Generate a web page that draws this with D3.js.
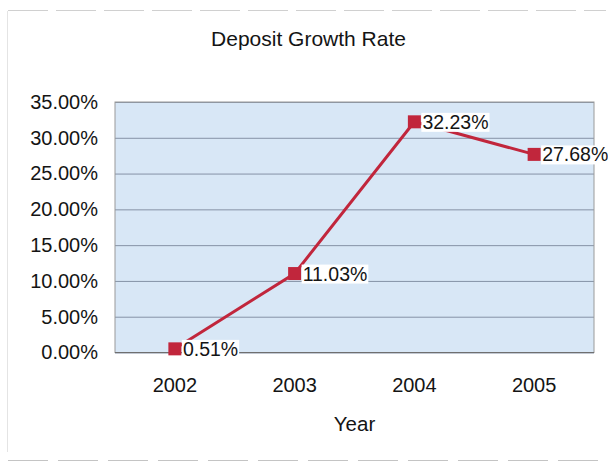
<!DOCTYPE html>
<html>
<head>
<meta charset="utf-8">
<script src="https://cdn.jsdelivr.net/npm/d3@7/dist/d3.min.js"></script>
<style>
  html, body { margin: 0; padding: 0; background: #ffffff; }
  svg { display: block; font-family: "Liberation Sans", Arial, sans-serif; }
</style>
</head>
<body>
<svg id="chart" width="608" height="466"></svg>
<script>
// Deposit growth rate by year (percent)
const years = ["2002", "2003", "2004", "2005"];
const growthRates = [0.51, 11.03, 32.23, 27.68];
const yTicks = [0, 5, 10, 15, 20, 25, 30, 35];
const chartTitle = "Deposit Growth Rate";
const xTitle = "Year";

const svg = d3.select("#chart");
const plot = { left: 115, right: 594, top: 102, bottom: 352.5 };
const lineColor = "#c1263c";
const textColor = "#141414";

// Outer chart frame
svg.append("line")
  .attr("x1", 8).attr("x2", 606).attr("y1", 10.5).attr("y2", 10.5)
  .attr("stroke", "#d0d0d0").attr("stroke-width", 1)
  .attr("stroke-dasharray", "40,8");
svg.append("line")
  .attr("x1", 8).attr("x2", 606).attr("y1", 460.5).attr("y2", 460.5)
  .attr("stroke", "#c4c4c4").attr("stroke-width", 1)
  .attr("stroke-dasharray", "40,10");
svg.append("line")
  .attr("x1", 7.5).attr("x2", 7.5).attr("y1", 11).attr("y2", 452)
  .attr("stroke", "#e4e4e4").attr("stroke-width", 1);

const x = d3.scaleBand().domain(years).range([plot.left, plot.right]).padding(0);
const y = d3.scaleLinear().domain([0, 35]).range([plot.bottom, plot.top]);

// Plot area
svg.append("rect")
  .attr("x", plot.left).attr("y", plot.top)
  .attr("width", plot.right - plot.left).attr("height", plot.bottom - plot.top)
  .attr("fill", "#d8e7f6");

// Horizontal gridlines
const grid = svg.append("g")
  .attr("transform", `translate(${plot.left},0)`)
  .call(d3.axisLeft(y).tickValues(yTicks).tickSize(-(plot.right - plot.left)).tickFormat(""));
grid.select(".domain").remove();
grid.selectAll(".tick line").attr("stroke", "#8592a6").attr("stroke-width", 1);

// Plot border
svg.append("rect")
  .attr("x", plot.left).attr("y", plot.top)
  .attr("width", plot.right - plot.left).attr("height", plot.bottom - plot.top)
  .attr("fill", "none").attr("stroke", "#9a9a9a").attr("stroke-width", 1);
svg.append("line")
  .attr("x1", plot.left).attr("x2", plot.right).attr("y1", plot.bottom).attr("y2", plot.bottom)
  .attr("stroke", "#6f6f6f").attr("stroke-width", 1.2);

// Y axis labels
const yAxis = svg.append("g")
  .attr("transform", `translate(${plot.left},0)`)
  .call(d3.axisLeft(y).tickValues(yTicks).tickSize(0).tickPadding(17)
    .tickFormat(d => d.toFixed(2) + "%"));
yAxis.select(".domain").remove();
yAxis.selectAll("text")
  .attr("font-size", 20).attr("fill", textColor)
  .attr("font-family", "Liberation Sans, Arial, sans-serif");

// X axis labels
const xAxis = svg.append("g")
  .attr("transform", `translate(0,${plot.bottom})`)
  .call(d3.axisBottom(x).tickSize(0).tickPadding(25));
xAxis.select(".domain").remove();
xAxis.selectAll("text")
  .attr("font-size", 20).attr("fill", textColor)
  .attr("font-family", "Liberation Sans, Arial, sans-serif");

// Titles
svg.append("text")
  .attr("x", 308.5).attr("y", 46)
  .attr("text-anchor", "middle")
  .attr("font-size", 21).attr("fill", textColor)
  .text(chartTitle);
svg.append("text")
  .attr("x", (plot.left + plot.right) / 2).attr("y", 431)
  .attr("text-anchor", "middle")
  .attr("font-size", 20.5).attr("fill", textColor)
  .text(xTitle);

// Series line
const pts = years.map((yr, i) => ({ year: yr, value: growthRates[i] }));
const cx = d => x(d.year) + x.bandwidth() / 2;
svg.append("path")
  .datum(pts)
  .attr("fill", "none")
  .attr("stroke", lineColor)
  .attr("stroke-width", 3)
  .attr("d", d3.line().x(cx).y(d => y(d.value)));

// Square markers
const ms = 13;
svg.selectAll("rect.marker")
  .data(pts).enter().append("rect")
  .attr("class", "marker")
  .attr("x", d => cx(d) - ms / 2)
  .attr("y", d => y(d.value) - ms / 2)
  .attr("width", ms).attr("height", ms)
  .attr("fill", lineColor);

// Value labels with white backing boxes, placed right of each point
const labels = svg.selectAll("g.vlabel")
  .data(pts).enter().append("g")
  .attr("class", "vlabel")
  .attr("transform", d => `translate(${cx(d) + 7},${y(d.value)})`);
labels.append("rect").attr("fill", "#ffffff");
const txt = labels.append("text")
  .attr("x", 1)
  .attr("dy", "0.36em")
  .attr("font-size", 19.5)
  .attr("fill", textColor)
  .text(d => d.value.toFixed(2) + "%");
txt.each(function () {
  const b = this.getBBox();
  d3.select(this.previousSibling)
    .attr("x", b.x - 1).attr("y", b.y + 2)
    .attr("width", b.width + 2).attr("height", b.height - 3);
});
</script>
</body>
</html>
